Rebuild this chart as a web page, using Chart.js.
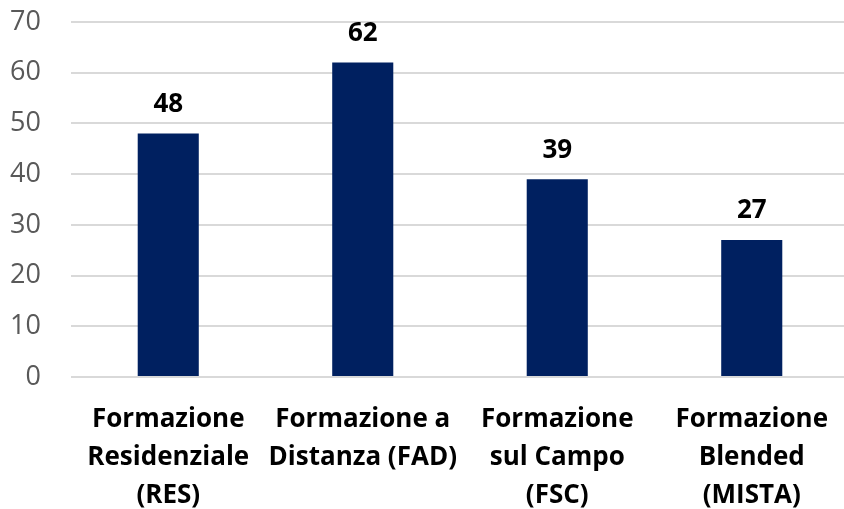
<!DOCTYPE html>
<html>
<head>
<meta charset="utf-8">
<script src="https://cdn.jsdelivr.net/npm/chart.js@4"></script>
<style>
  html, body { margin: 0; padding: 0; background: #fff; overflow: hidden; }
  #wrap { position: relative; width: 852px; height: 514px; }
</style>
</head>
<body>
<div id="wrap"><canvas id="barChart"></canvas></div>
<script>
// Data
const categories = [
    ['Formazione', 'Residenziale', '(RES)'],
    ['Formazione a', 'Distanza (FAD)'],
    ['Formazione', 'sul Campo', '(FSC)'],
    ['Formazione', 'Blended', '(MISTA)']
];
const values = [48, 62, 39, 27];
const yTicks = [0, 10, 20, 30, 40, 50, 60, 70];

const FONT = "'Open Sans', 'Liberation Sans', sans-serif";

// Draws the value above each bar
const valueLabels = {
    id: 'valueLabels',
    afterDatasetsDraw(chart) {
        const ctx = chart.ctx;
        const meta = chart.getDatasetMeta(0);
        ctx.save();
        ctx.font = 'bold 26px ' + FONT;
        ctx.fillStyle = '#000000';
        ctx.textAlign = 'center';
        ctx.textBaseline = 'middle';
        meta.data.forEach((bar, i) => {
            ctx.fillText(values[i], bar.x, bar.y - 29);
        });
        ctx.restore();
    }
};

new Chart(document.getElementById('barChart'), {
    type: 'bar',
    data: {
        labels: categories,
        datasets: [{
            data: values,
            backgroundColor: '#002060',
            barPercentage: 1,
            categoryPercentage: 0.314
        }]
    },
    options: {
        responsive: true,
        maintainAspectRatio: false,
        animation: false,
        layout: { padding: { top: 22, right: 3, bottom: 0, left: 10 } },
        plugins: {
            legend: { display: false },
            tooltip: { enabled: false }
        },
        scales: {
            y: {
                min: 0,
                max: 70,
                afterBuildTicks: (axis) => { axis.ticks = yTicks.map(v => ({ value: v })); },
                afterFit: (axis) => { axis.width = 61; axis.paddingTop = 0; axis.paddingBottom = 0; },
                border: { display: false },
                grid: { color: '#d9d9d9', lineWidth: 2, drawTicks: false },
                ticks: {
                    color: '#595959',
                    padding: 30,
                    font: { family: FONT, size: 27, lineHeight: 1 }
                }
            },
            x: {
                afterFit: (axis) => { axis.height = 137; axis.paddingLeft = 0; axis.paddingRight = 0; },
                border: { display: false },
                grid: { display: false },
                ticks: {
                    color: '#000000',
                    padding: 16,
                    maxRotation: 0,
                    autoSkip: false,
                    font: { family: FONT, size: 26, weight: 'bold', lineHeight: 1.45 }
                }
            }
        }
    },
    plugins: [valueLabels]
});
</script>
</body>
</html>
